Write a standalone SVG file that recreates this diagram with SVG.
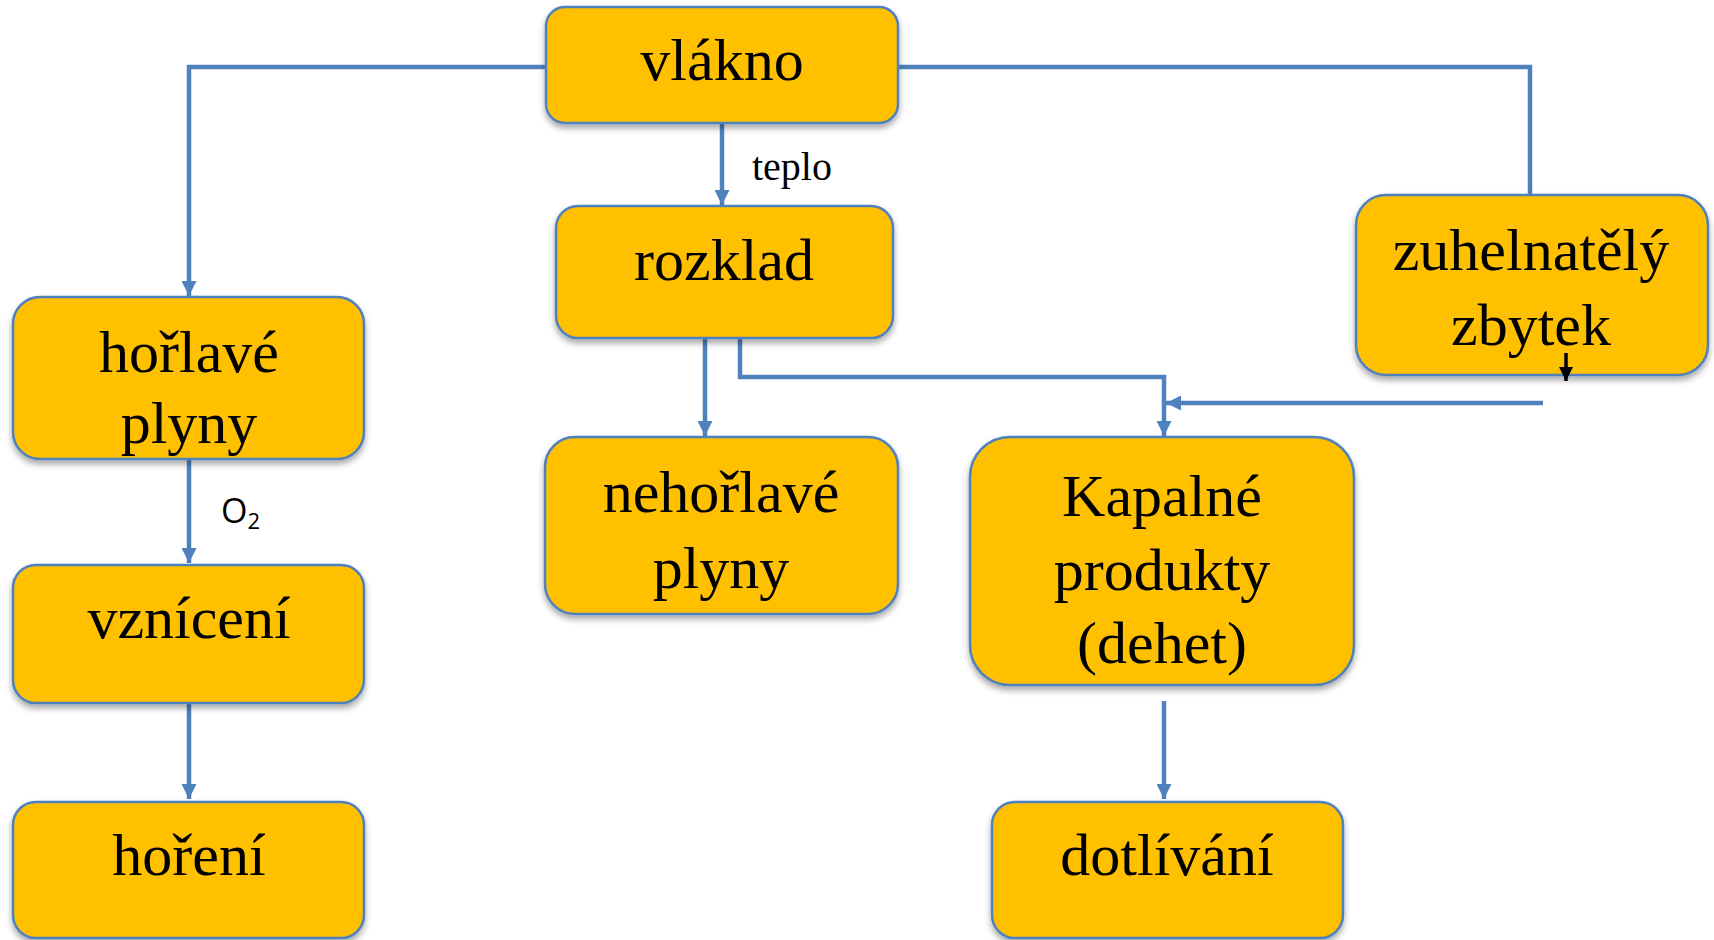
<svg xmlns="http://www.w3.org/2000/svg" width="1714" height="940" viewBox="0 0 1714 940">
<style>
.box{fill:#FFC000;stroke:#4F81BD;stroke-width:2.5;filter:url(#sh)}
.t{font-family:"Liberation Sans",sans-serif;font-family:"Liberation Serif","Times New Roman",serif;font-size:60px;fill:#000;text-anchor:middle}
.c{fill:none;stroke:#4F81BD;stroke-width:4.5}
.lbl{font-family:"Liberation Serif","Times New Roman",serif;font-size:40px;fill:#000}
.o2{font-family:"Open Sans","Liberation Sans",Arial,sans-serif;font-size:34px;fill:#000}
</style>
<defs>
<filter id="sh" x="-10%" y="-10%" width="120%" height="130%">
<feDropShadow dx="0" dy="4" stdDeviation="3" flood-color="#000" flood-opacity="0.35"/>
</filter>
<marker id="ah" viewBox="0 0 14 14" markerWidth="15" markerHeight="15" refX="14" refY="7" orient="auto" markerUnits="userSpaceOnUse">
<path d="M0,0 L14,7 L0,14 z" fill="#4F81BD"/>
</marker>
<marker id="ahb" viewBox="0 0 12 12" markerWidth="14" markerHeight="14" refX="12" refY="6" orient="auto" markerUnits="userSpaceOnUse">
<path d="M0,0 L12,6 L0,12 z" fill="#000"/>
</marker>
</defs>
<rect width="1714" height="940" fill="#fff"/>

<g id="connectors">
<polyline class="c" points="546,67 189,67 189,296" marker-end="url(#ah)"/>
<polyline class="c" points="898,67 1530,67 1530,195"/>
<line class="c" x1="722" y1="123" x2="722" y2="205" marker-end="url(#ah)"/>
<line class="c" x1="705" y1="339" x2="705" y2="436" marker-end="url(#ah)"/>
<polyline class="c" points="740,339 740,377 1164,377 1164,436" marker-end="url(#ah)"/>
<line class="c" x1="1543" y1="403" x2="1166" y2="403" marker-end="url(#ah)"/>
<line class="c" x1="189" y1="459" x2="189" y2="563" marker-end="url(#ah)"/>
<line class="c" x1="189" y1="702" x2="189" y2="799" marker-end="url(#ah)"/>
<line class="c" x1="1164" y1="701" x2="1164" y2="799" marker-end="url(#ah)"/>
<text class="lbl" x="752" y="180">teplo</text>
<text class="o2" x="221" y="523">O<tspan font-size="22" dy="6">2</tspan></text>
</g>

<g id="vlakno">
<rect class="box" x="546" y="7" width="352" height="116" rx="19"/>
<text class="t" x="722" y="80">vlákno</text>
</g>
<g id="rozklad">
<rect class="box" x="556" y="206" width="337" height="132" rx="22"/>
<text class="t" x="724" y="280">rozklad</text>
</g>
<g id="zuhelnately">
<rect class="box" x="1356" y="195" width="352" height="180" rx="30"/>
<text class="t" x="1531" y="270">zuhelnatělý</text>
<text class="t" x="1531" y="345">zbytek</text>
<line x1="1566" y1="353" x2="1566" y2="381" stroke="#000" stroke-width="3.5" marker-end="url(#ahb)"/>
</g>
<g id="horlave">
<rect class="box" x="13" y="297" width="351" height="162" rx="27"/>
<text class="t" x="189" y="372">hořlavé</text>
<text class="t" x="189" y="443">plyny</text>
</g>
<g id="nehorlave">
<rect class="box" x="545" y="437" width="353" height="177" rx="30"/>
<text class="t" x="721" y="512">nehořlavé</text>
<text class="t" x="721" y="588">plyny</text>
</g>
<g id="kapalne">
<rect class="box" x="970" y="437" width="384" height="248" rx="40"/>
<text class="t" x="1162" y="516">Kapalné</text>
<text class="t" x="1162" y="590">produkty</text>
<text class="t" x="1162" y="663">(dehet)</text>
</g>
<g id="vzniceni">
<rect class="box" x="13" y="565" width="351" height="138" rx="23"/>
<text class="t" x="189" y="638">vznícení</text>
</g>
<g id="horeni">
<rect class="box" x="13" y="802" width="351" height="136" rx="23"/>
<text class="t" x="189" y="875">hoření</text>
</g>
<g id="dotlivani">
<rect class="box" x="992" y="802" width="351" height="136" rx="23"/>
<text class="t" x="1167" y="875">dotlívání</text>
</g>
</svg>
